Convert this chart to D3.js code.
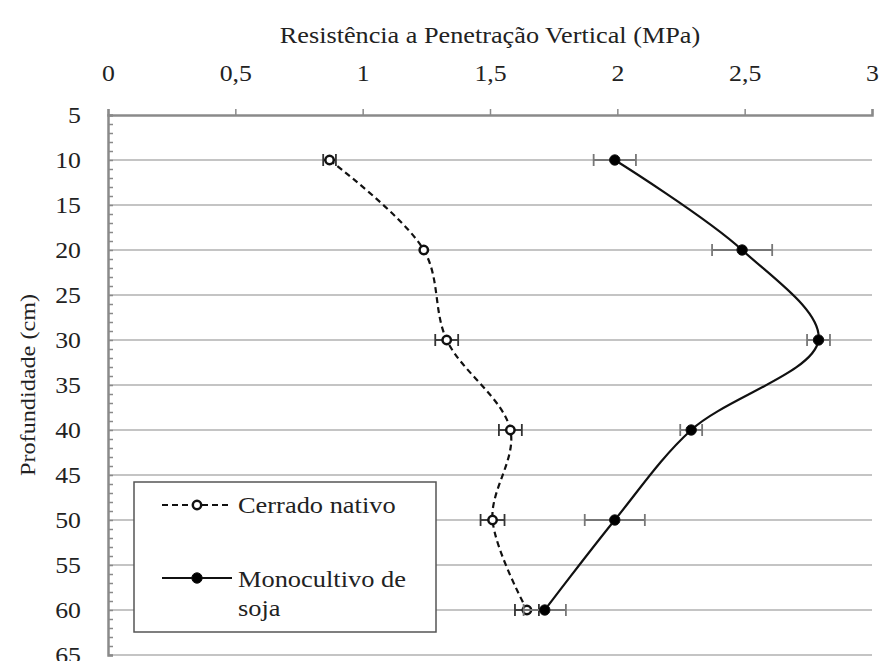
<!DOCTYPE html>
<html>
<head>
<meta charset="utf-8">
<script src="https://cdn.jsdelivr.net/npm/d3@7.9.0/dist/d3.min.js"></script>
<style>
  body { margin: 0; background: #fff; }
  .lbl { font-family: 'Liberation Serif'; }
</style>
</head>
<body>
<svg id="chart" width="883" height="661"></svg>
<script>
// Depth values (cm)
const depths = [10, 20, 30, 40, 50, 60];

// Cerrado nativo
const cerradoValues = [0.87, 1.24, 1.33, 1.58, 1.51, 1.645];
const cerradoErrors = [0.025, 0.0, 0.045, 0.045, 0.047, 0.047];

// Monocultivo de soja
const sojaValues = [1.99, 2.49, 2.79, 2.29, 1.99, 1.715];
const sojaErrors = [0.083, 0.118, 0.045, 0.043, 0.118, 0.083];

// Axis ticks
const xTicks = [0, 0.5, 1, 1.5, 2, 2.5, 3];
const yTicks = [5, 10, 15, 20, 25, 30, 35, 40, 45, 50, 55, 60, 65];

const svg = d3.select('#chart');

const x = d3.scaleLinear().domain([0, 3]).range([108, 872]);
const y = d3.scaleLinear().domain([5, 65]).range([115, 655]);

const fmt = (d) => String(d).replace('.', ',');

// serif label, widened a little like the original picture
function label(sel, k) {
  sel.attr('class', 'lbl').style('font-family', "'Liberation Serif'").attr('fill', '#222');
  sel.each(function() {
    const w = this.getComputedTextLength();
    this.setAttribute('textLength', w * k);
    this.setAttribute('lengthAdjust', 'spacingAndGlyphs');
  });
}

// Grid lines
svg.append('g')
  .selectAll('line')
  .data(yTicks.filter((d) => d > 5))
  .enter()
  .append('line')
  .attr('x1', x(0))
  .attr('x2', x(3))
  .attr('y1', (d) => y(d))
  .attr('y2', (d) => y(d))
  .attr('stroke', '#b0b0b0')
  .attr('stroke-width', 1.5);

// Top axis
const topAxis = svg.append('g')
  .attr('transform', `translate(0,${y(5)})`)
  .call(d3.axisTop(x).tickValues(xTicks).tickSize(6).tickFormat(fmt))
  .attr('font-family', null)
  .attr('font-size', 23);
topAxis.select('.domain').attr('stroke', '#8a8a8a').attr('stroke-width', 2.5);
topAxis.selectAll('.tick line').attr('stroke', '#8a8a8a').attr('stroke-width', 1.5);
topAxis.selectAll('.tick text')
  .attr('y', -34)
  .call(label, 1.12);

// Left axis with minor ticks
const leftAxis = svg.append('g')
  .attr('transform', `translate(${x(0)},0)`)
  .call(d3.axisLeft(y).tickValues(d3.range(5, 66, 1)).tickSize(-5).tickFormat(''));
leftAxis.select('.domain').attr('stroke', '#8a8a8a').attr('stroke-width', 2.5);
leftAxis.selectAll('.tick line').attr('stroke', '#8a8a8a').attr('stroke-width', 1.5);

svg.append('g')
  .selectAll('text')
  .data(yTicks)
  .enter()
  .append('text')
  .attr('x', 81)
  .attr('y', (d) => y(d))
  .attr('dy', '0.35em')
  .attr('text-anchor', 'end')
  .attr('font-size', 23)
  .text((d) => d)
  .call(label, 1.12);

// Axis titles
svg.append('text')
  .attr('x', 490)
  .attr('y', 43)
  .attr('text-anchor', 'middle')
  .attr('font-size', 23)
  .text('Resistência a Penetração Vertical (MPa)')
  .call(label, 1.14);

svg.append('text')
  .attr('transform', `translate(35,${y(35)}) rotate(-90)`)
  .attr('text-anchor', 'middle')
  .attr('font-size', 22)
  .text('Profundidade (cm)')
  .call(label, 1.1);

// Series drawing
function drawSeries(values, errors, opts) {
  const pts = depths.map((d, i) => ({ depth: d, value: values[i], err: errors[i] }));

  const line = d3.line()
    .x((d) => x(d.value))
    .y((d) => y(d.depth))
    .curve(d3.curveCatmullRom.alpha(0.5));

  svg.append('path')
    .datum(pts)
    .attr('d', line)
    .attr('fill', 'none')
    .attr('stroke', '#111')
    .attr('stroke-width', 2.2)
    .attr('stroke-dasharray', opts.dash);

  const eb = svg.append('g').attr('stroke', opts.errColor).attr('stroke-width', 1.8);
  pts.filter((d) => d.err > 0).forEach((d) => {
    const cy = y(d.depth);
    eb.append('line').attr('x1', x(d.value - d.err)).attr('x2', x(d.value + d.err)).attr('y1', cy).attr('y2', cy);
    eb.append('line').attr('x1', x(d.value - d.err)).attr('x2', x(d.value - d.err)).attr('y1', cy - 6).attr('y2', cy + 6);
    eb.append('line').attr('x1', x(d.value + d.err)).attr('x2', x(d.value + d.err)).attr('y1', cy - 6).attr('y2', cy + 6);
  });

  svg.append('g')
    .selectAll('circle')
    .data(pts)
    .enter()
    .append('circle')
    .attr('cx', (d) => x(d.value))
    .attr('cy', (d) => y(d.depth))
    .attr('r', opts.r)
    .attr('fill', opts.fill)
    .attr('stroke', '#111')
    .attr('stroke-width', opts.sw);
}

drawSeries(cerradoValues, cerradoErrors, { dash: '6,4', errColor: '#333', fill: '#fff', r: 4.2, sw: 2.5 });
drawSeries(sojaValues, sojaErrors, { dash: null, errColor: '#777', fill: '#000', r: 5.2, sw: 1 });

// Legend
const legend = svg.append('g');
legend.append('rect')
  .attr('x', 134)
  .attr('y', 482)
  .attr('width', 302)
  .attr('height', 150)
  .attr('fill', '#fff')
  .attr('stroke', '#555')
  .attr('stroke-width', 1.5);

legend.append('line')
  .attr('x1', 162).attr('x2', 232).attr('y1', 505).attr('y2', 505)
  .attr('stroke', '#111').attr('stroke-width', 2.2).attr('stroke-dasharray', '6,4');
legend.append('circle')
  .attr('cx', 197).attr('cy', 505).attr('r', 4.2)
  .attr('fill', '#fff').attr('stroke', '#111').attr('stroke-width', 2.5);
legend.append('text')
  .attr('x', 238).attr('y', 513)
  .attr('font-size', 24)
  .text('Cerrado nativo')
  .call(label, 1.1);

legend.append('line')
  .attr('x1', 162).attr('x2', 232).attr('y1', 578).attr('y2', 578)
  .attr('stroke', '#111').attr('stroke-width', 2.2);
legend.append('circle')
  .attr('cx', 197).attr('cy', 578).attr('r', 5.2)
  .attr('fill', '#000').attr('stroke', '#111').attr('stroke-width', 1);
legend.append('text')
  .attr('x', 238).attr('y', 587)
  .attr('font-size', 24)
  .text('Monocultivo de')
  .call(label, 1.1);
legend.append('text')
  .attr('x', 238).attr('y', 616)
  .attr('font-size', 24)
  .text('soja')
  .call(label, 1.1);
</script>
</body>
</html>
